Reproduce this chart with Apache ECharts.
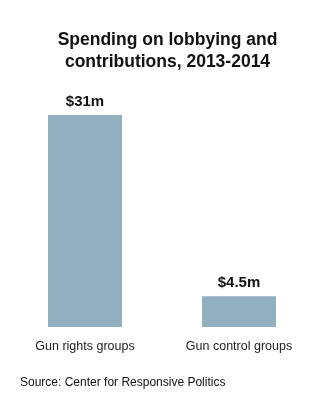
<!DOCTYPE html>
<html>
<head>
<meta charset="utf-8">
<script src="https://cdn.jsdelivr.net/npm/echarts@6/dist/echarts.min.js"></script>
<style>
  html, body { margin: 0; padding: 0; background: #fff; }
  #chart { width: 335px; height: 417px; }
</style>
</head>
<body>
<div id="chart"></div>
<script>
const categories = ["Gun rights groups", "Gun control groups"];
const spending = [31, 4.5];
const valueLabels = ["$31m", "$4.5m"];

const chart = echarts.init(document.getElementById("chart"), null, { renderer: "canvas" });

const option = {
  animation: false,
  title: {
    text: "Spending on lobbying and\ncontributions, 2013-2014",
    left: "center",
    top: 24,
    textStyle: {
      fontFamily: "Liberation Sans, Arial, sans-serif",
      fontSize: 17.5,
      fontWeight: "bold",
      color: "#111",
      lineHeight: 22,
    },
  },
  graphic: [
    {
      type: "text",
      left: 20,
      top: 377,
      style: {
        text: "Source: Center for Responsive Politics",
        font: "12px Liberation Sans, Arial, sans-serif",
        fill: "#111",
      },
    },
  ],
  grid: { left: 8, right: 19, top: 115, bottom: 90 },
  xAxis: {
    type: "category",
    data: categories,
    axisLine: { show: false },
    axisTick: { show: false },
    axisLabel: {
      margin: 13,
      fontFamily: "Liberation Sans, Arial, sans-serif",
      fontSize: 12.5,
      color: "#222",
    },
  },
  yAxis: {
    type: "value",
    min: 0,
    max: 31,
    show: false,
    splitLine: { show: false },
  },
  series: [
    {
      type: "bar",
      data: spending,
      barWidth: 74,
      itemStyle: { color: "#93b0c0" },
      label: {
        show: true,
        position: "top",
        distance: 6,
        formatter: (p) => valueLabels[p.dataIndex],
        fontFamily: "Liberation Sans, Arial, sans-serif",
        fontSize: 15,
        fontWeight: "bold",
        color: "#111",
      },
    },
  ],
};

chart.setOption(option);
</script>
</body>
</html>
